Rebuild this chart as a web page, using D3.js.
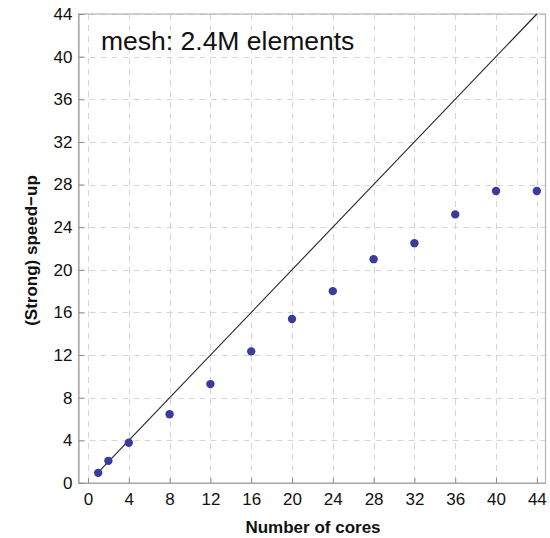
<!DOCTYPE html>
<html>
<head>
<meta charset="utf-8">
<script src="https://cdn.jsdelivr.net/npm/d3@7"></script>
<style>
  html, body { margin: 0; padding: 0; background: #fff; }
  svg { display: block; font-family: "Liberation Sans", Arial, Helvetica, sans-serif; }
</style>
</head>
<body>
<svg id="chart" width="550" height="538"></svg>
<script>
// Measured strong-scaling speed-up for the 2.4M element mesh
const cores   = [1, 2, 4, 8, 12, 16, 20, 24, 28, 32, 36, 40, 44];
const speedup = [0.95, 2.08, 3.78, 6.45, 9.28, 12.35, 15.38, 18.0, 21.0, 22.5, 25.2, 27.4, 27.4];
const xTicks  = [0, 4, 8, 12, 16, 20, 24, 28, 32, 36, 40, 44];
const yTicks  = [0, 4, 8, 12, 16, 20, 24, 28, 32, 36, 40, 44];
const idealLine = [1, 44];
const title = "mesh: 2.4M elements";

(function () {
  const svg = d3.select("#chart");
  const pLeft = 78.5, pRight = 545.5, pTop = 14, pBottom = 483;

  const x = d3.scaleLinear().domain([-0.93, 44.85]).range([pLeft, pRight]);
  const y = d3.scaleLinear().domain([0, 44]).range([pBottom, pTop]);

  // Dashed grid
  const grid = svg.append("g").attr("stroke", "#d6d6d6").attr("stroke-width", 1)
    .attr("stroke-dasharray", "6,5");
  grid.selectAll(".gx").data(xTicks).join("line").attr("class", "gx")
    .attr("x1", d => Math.round(x(d)) + 0.5).attr("x2", d => Math.round(x(d)) + 0.5)
    .attr("y1", pTop).attr("y2", pBottom);
  grid.selectAll(".gy").data(yTicks).join("line").attr("class", "gy")
    .attr("y1", d => Math.round(y(d)) + 0.5).attr("y2", d => Math.round(y(d)) + 0.5)
    .attr("x1", pLeft).attr("x2", pRight);

  // Panel frame
  svg.append("rect").attr("x", pLeft).attr("y", pTop)
    .attr("width", pRight - pLeft).attr("height", pBottom - pTop)
    .attr("fill", "none").attr("stroke", "#b3b3b3").attr("stroke-width", 1.2);

  // Axes with inward ticks
  const xAxis = svg.append("g").attr("transform", `translate(0,${pBottom})`)
    .call(d3.axisBottom(x).tickValues(xTicks).tickSizeInner(-5).tickSizeOuter(0).tickPadding(10));
  const yAxis = svg.append("g").attr("transform", `translate(${pLeft},0)`)
    .call(d3.axisLeft(y).tickValues(yTicks).tickSizeInner(-6).tickSizeOuter(0).tickPadding(6));
  [xAxis, yAxis].forEach(a => {
    a.select(".domain").attr("stroke", "#a6a6a6").attr("stroke-width", 1.2);
    a.selectAll(".tick line").attr("stroke", "#8c8c8c");
    a.selectAll(".tick text").attr("fill", "#111").style("font-size", "17px")
      .style("font-family", "'Liberation Sans', Arial, sans-serif");
  });

  // Ideal (linear) speed-up
  svg.append("line")
    .attr("x1", x(idealLine[0])).attr("y1", y(idealLine[0]))
    .attr("x2", x(idealLine[1])).attr("y2", y(idealLine[1]))
    .attr("stroke", "#222").attr("stroke-width", 1.1);

  // Measured points
  svg.append("g").selectAll("circle").data(cores).join("circle")
    .attr("cx", d => x(d)).attr("cy", (d, i) => y(speedup[i]))
    .attr("r", 4.2).attr("fill", "#3b3b9b");

  // Title inside panel
  svg.append("text").attr("x", 101).attr("y", 50)
    .attr("fill", "#111").style("font-size", "26.5px").text(title);

  // Axis titles
  svg.append("text").attr("x", (pLeft + pRight) / 2 + 1).attr("y", 533)
    .attr("text-anchor", "middle").attr("fill", "#111")
    .style("font-size", "17px").style("font-weight", "bold").text("Number of cores");
  svg.append("text")
    .attr("transform", `translate(37,${(pTop + pBottom) / 2 + 2}) rotate(-90)`)
    .attr("text-anchor", "middle").attr("fill", "#111")
    .style("font-size", "17px").style("font-weight", "bold").text("(Strong) speed\u2212up");
})();
</script>
</body>
</html>
